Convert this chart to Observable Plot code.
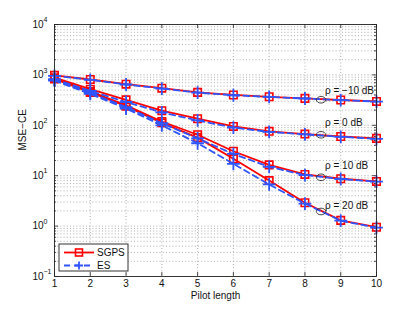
<!DOCTYPE html>
<html>
<head>
<meta charset="utf-8">
<script src="https://cdn.jsdelivr.net/npm/d3@7"></script>
<script src="https://cdn.jsdelivr.net/npm/@observablehq/plot@0.6"></script>
<style>
  html, body { margin: 0; padding: 0; background: #fff; }
  #wrap { position: relative; width: 415px; height: 312px; font-family: "Liberation Sans", Arial, sans-serif; }
  #legend { position: absolute; left: 0; top: 0; pointer-events: none; }
</style>
</head>
<body>
<div id="wrap"></div>
<script>
// ---- data ----
const pilotLength = [1, 2, 3, 4, 5, 6, 7, 8, 9, 10];
const snrNames = ["ρ = −10 dB", "ρ = 0 dB", "ρ = 10 dB", "ρ = 20 dB"];

const sgpsM10 = [980, 810, 655, 545, 450, 400, 368, 342, 318, 298];
const sgps0   = [880, 520, 320, 195, 135, 95, 76, 67, 60, 55];
const sgps10  = [850, 470, 250, 119, 65, 30.6, 16.4, 10.6, 8.7, 7.7];
const sgps20  = [830, 450, 240, 112, 57, 21.6, 8.0, 2.9, 1.3, 0.95];

const esM10 = [960, 800, 645, 535, 445, 395, 365, 340, 316, 296];
const es0   = [820, 480, 290, 180, 125, 90, 74, 66, 59, 54];
const es10  = [800, 440, 230, 110, 55, 27, 15, 10.3, 8.6, 7.6];
const es20  = [770, 420, 215, 100, 44, 17.2, 6.7, 2.8, 1.28, 0.93];

// annotation anchors (data units)
const ellipseX = 8.45;
const ellipseY = [321, 64.8, 9.3, 1.95];
const labelX = 8.56;
const labelY = [490, 110, 15.9, 2.5];

const yMajor = [0.1, 1, 10, 100, 1000, 10000];
const yExp = ["−1", "0", "1", "2", "3", "4"];

// ---- tables ----
const sgpsSeries = [sgpsM10, sgps0, sgps10, sgps20];
const esSeries = [esM10, es0, es10, es20];
const toRows = (series) => series.flatMap((vals, i) =>
  vals.map((v, j) => ({x: pilotLength[j], y: v, snr: snrNames[i]})));
const sgpsRows = toRows(sgpsSeries);
const esRows = toRows(esSeries);
const yMinor = [];
for (let e = -1; e < 4; e++) for (let m = 2; m <= 9; m++) yMinor.push(m * Math.pow(10, e));
const annotations = snrNames.map((s, i) => ({s, ey: ellipseY[i], ly: labelY[i]}));

const red = "#ff0000";
const blue = "#2f55ff";
const gridStyle = {stroke: "#9a9a9a", strokeWidth: 0.8, strokeDasharray: "1,2.2"};

const ellipseSymbol = {
  draw(ctx) {
    const rx = 4.7, ry = 3.3, k = 0.5523;
    ctx.moveTo(rx, 0);
    ctx.bezierCurveTo(rx, ry * k, rx * k, ry, 0, ry);
    ctx.bezierCurveTo(-rx * k, ry, -rx, ry * k, -rx, 0);
    ctx.bezierCurveTo(-rx, -ry * k, -rx * k, -ry, 0, -ry);
    ctx.bezierCurveTo(rx * k, -ry, rx, -ry * k, rx, 0);
    ctx.closePath();
  }
};

const W = 415, H = 312, mL = 54, mR = 39, mT = 24, mB = 36;
const plotH = H - mT - mB, plotW = W - mL - mR;

const chart = Plot.plot({
  width: W, height: H,
  marginLeft: mL, marginRight: mR, marginTop: mT, marginBottom: mB,
  style: {fontFamily: "Liberation Sans, Arial, sans-serif", fontSize: "10px", background: "white", color: "#111"},
  x: {domain: [1, 10], axis: null},
  y: {type: "log", domain: [0.1, 10000], axis: null},
  marks: [
    // grid
    Plot.ruleY(yMinor, {y: d => d, ...gridStyle}),
    Plot.ruleY(yMajor.slice(1, -1), {y: d => d, ...gridStyle}),
    Plot.ruleX(pilotLength.slice(1, -1), {x: d => d, ...gridStyle}),
    // inside ticks
    Plot.ruleX(pilotLength, {x: d => d, insetTop: plotH - 4, stroke: "#222", strokeWidth: 0.8}),
    Plot.ruleX(pilotLength, {x: d => d, insetBottom: plotH - 4, stroke: "#222", strokeWidth: 0.8}),
    Plot.ruleY(yMajor, {y: d => d, insetRight: plotW - 4, stroke: "#222", strokeWidth: 0.8}),
    Plot.ruleY(yMajor, {y: d => d, insetLeft: plotW - 4, stroke: "#222", strokeWidth: 0.8}),
    Plot.ruleY(yMinor, {y: d => d, insetRight: plotW - 2, stroke: "#222", strokeWidth: 0.8}),
    Plot.ruleY(yMinor, {y: d => d, insetLeft: plotW - 2, stroke: "#222", strokeWidth: 0.8}),
    // SGPS
    Plot.line(sgpsRows, {x: "x", y: "y", z: "snr", stroke: red, strokeWidth: 1.8}),
    Plot.dot(sgpsRows, {x: "x", y: "y", symbol: "square", r: 4.2, stroke: red, strokeWidth: 1.6, fill: "none"}),
    // ES
    Plot.line(esRows, {x: "x", y: "y", z: "snr", stroke: blue, strokeWidth: 1.8, strokeDasharray: "6,4"}),
    Plot.dot(esRows, {x: "x", y: "y", symbol: "plus", r: 4.2, stroke: blue, strokeWidth: 1.8}),
    // annotations
    Plot.dot(annotations, {x: () => ellipseX, y: "ey", symbol: () => ellipseSymbol, stroke: "#333", strokeWidth: 0.9, fill: "none"}),
    Plot.text(annotations, {x: () => labelX, y: "ly", text: "s", textAnchor: "start", fontSize: 10, fill: "#111"}),
    // frame
    Plot.frame({stroke: "#222", strokeWidth: 0.9}),
    // x tick labels
    Plot.text(pilotLength, {x: d => d, frameAnchor: "bottom", text: d => String(d), dy: 10, fontSize: 10, fill: "#111"}),
    // y tick labels
    Plot.text(yMajor, {y: d => d, frameAnchor: "left", text: () => "10", textAnchor: "end", dx: -11, fontSize: 10, fill: "#111"}),
    Plot.text(yMajor, {y: d => d, frameAnchor: "left", text: (d, i) => yExp[i], textAnchor: "start", dx: -11, dy: -4.5, fontSize: 7, fill: "#111"}),
    // axis titles
    Plot.text(["Pilot length"], {frameAnchor: "bottom", text: d => d, dy: 22, fontSize: 10, fill: "#111"}),
    Plot.text(["MSE−CE"], {frameAnchor: "left", text: d => d, rotate: -90, dx: -32, fontSize: 10, fill: "#111"})
  ]
});
document.getElementById("wrap").appendChild(chart);

// legend overlay
const svgNS = "http://www.w3.org/2000/svg";
const leg = d3.select("#wrap").append("svg").attr("id", "legend").attr("width", W).attr("height", H);
leg.append("rect").attr("x", 59).attr("y", 244).attr("width", 69).attr("height", 27)
  .attr("fill", "white").attr("stroke", "#333").attr("stroke-width", 1);
const legendItems = [
  {name: "SGPS", color: red, dash: null, sym: "square"},
  {name: "ES", color: blue, dash: "6,4", sym: "plus"}
];
legendItems.forEach((it, i) => {
  const y = 252.5 + i * 13;
  leg.append("line").attr("x1", 64).attr("x2", 94).attr("y1", y).attr("y2", y)
    .attr("stroke", it.color).attr("stroke-width", 1.8).attr("stroke-dasharray", it.dash);
  if (it.sym === "square") {
    leg.append("rect").attr("x", 75.5).attr("y", y - 3.5).attr("width", 7).attr("height", 7)
      .attr("fill", "none").attr("stroke", it.color).attr("stroke-width", 1.6);
  } else {
    leg.append("path").attr("d", `M${79 - 4},${y}H${79 + 4}M79,${y - 4}V${y + 4}`)
      .attr("stroke", it.color).attr("stroke-width", 1.8);
  }
  leg.append("text").attr("x", 97).attr("y", y).attr("dy", "0.35em")
    .attr("font-size", 10).attr("font-family", "Liberation Sans, Arial, sans-serif").attr("fill", "#111")
    .text(it.name);
});
</script>
</body>
</html>
